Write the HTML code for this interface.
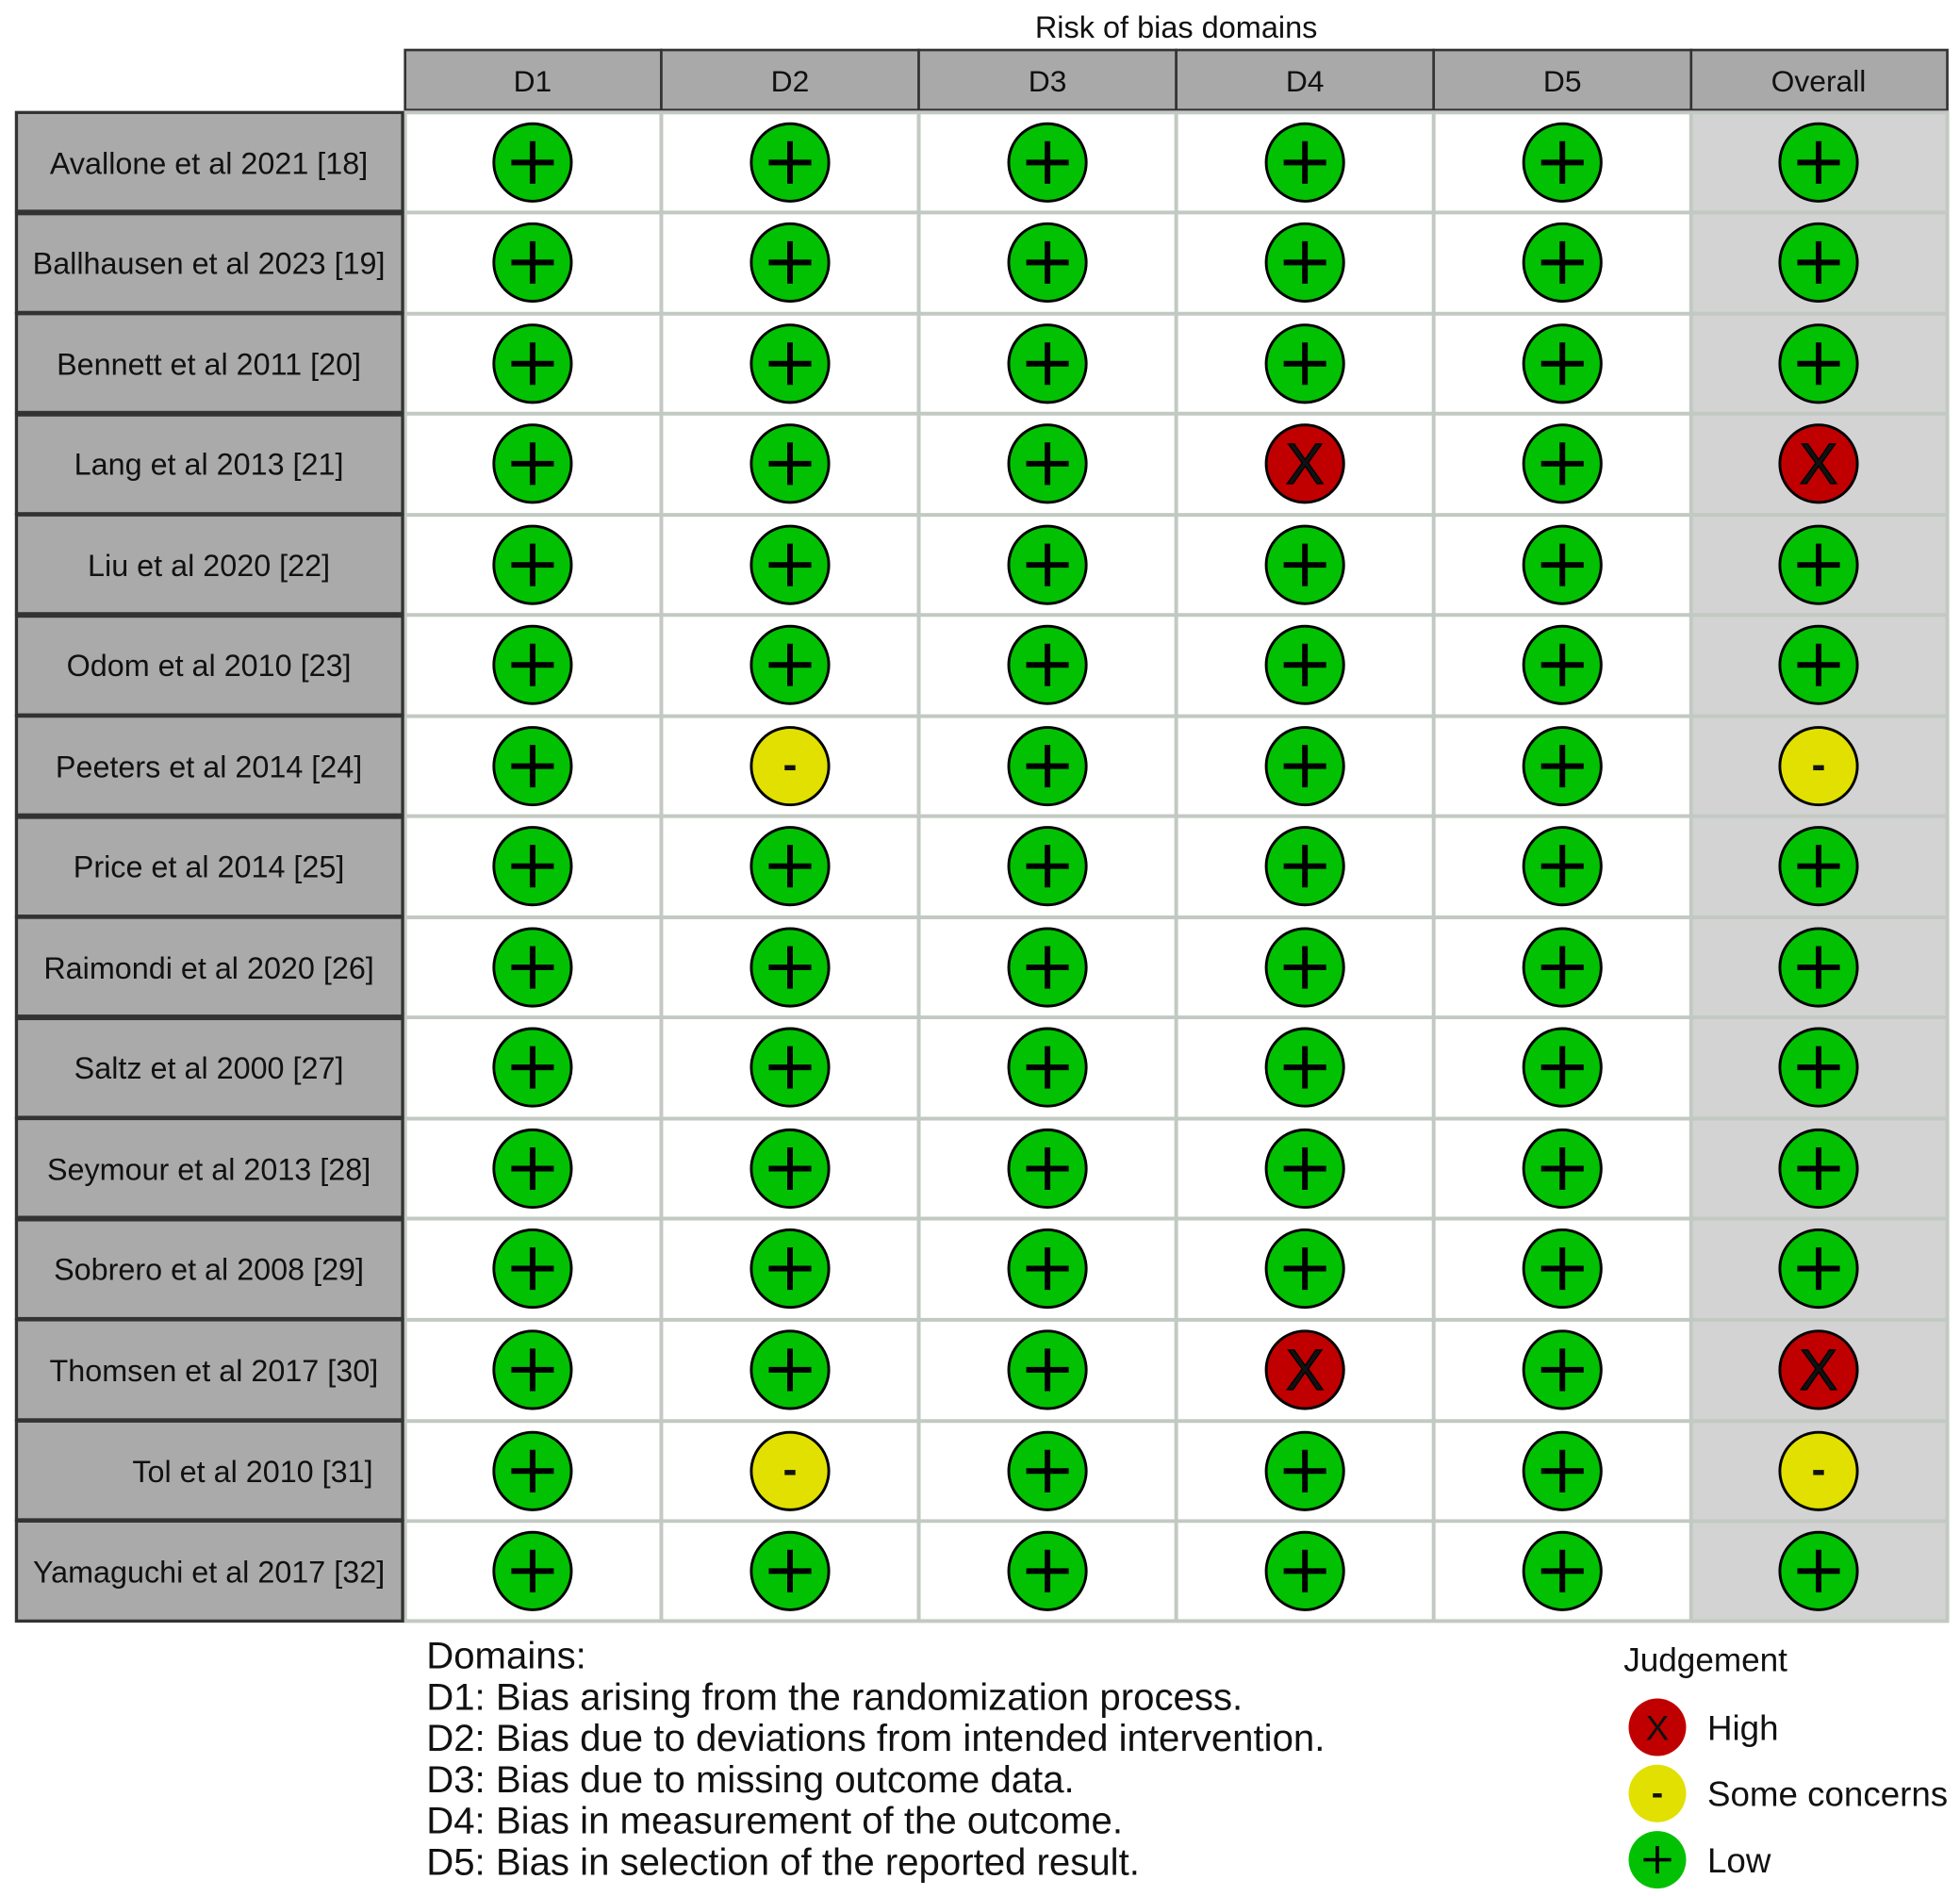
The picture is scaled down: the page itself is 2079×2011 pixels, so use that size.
<!DOCTYPE html>
<html><head><meta charset="utf-8"><style>
html,body{margin:0;padding:0;background:#fff;}
svg{display:block;}
text{font-family:"Liberation Sans",sans-serif;fill:#111;}
</style></head><body>
<svg width="2079" height="2011" viewBox="0 0 1568 1517" xmlns="http://www.w3.org/2000/svg">
<defs>
<g id="g"><circle r="31" fill="#02c102" stroke="#000" stroke-width="2.2"/><path d="M-17 0H17M0 -17V17" stroke="#000" stroke-width="4.5"/></g>
</defs>
<text x="941" y="30" font-size="24.5" text-anchor="middle">Risk of bias domains</text>
<g fill="#a9a9a9" stroke="#333" stroke-width="2">
<rect x="324" y="40" width="205" height="48"/><rect x="529" y="40" width="206" height="48"/><rect x="735" y="40" width="206" height="48"/><rect x="941" y="40" width="206" height="48"/><rect x="1147" y="40" width="206" height="48"/><rect x="1353" y="40" width="205" height="48"/>
</g>
<g font-size="24" text-anchor="middle">
<text x="426" y="73">D1</text><text x="632" y="73">D2</text><text x="838" y="73">D3</text><text x="1044" y="73">D4</text><text x="1250" y="73">D5</text><text x="1455" y="73">Overall</text>
</g>
<rect x="324" y="90" width="1029" height="1207" fill="#fff"/>
<rect x="1353" y="90" width="205" height="1207" fill="#d3d3d3"/>
<g stroke="#c2c9c2" stroke-width="3" fill="none">
<rect x="324" y="90" width="1234" height="1207"/>
<path d="M529 90V1297M735 90V1297M941 90V1297M1147 90V1297M1353 90V1297"/>
<path d="M324 170H1558M324 251H1558M324 331H1558M324 412H1558M324 492H1558M324 573H1558M324 653H1558M324 734H1558M324 814H1558M324 895H1558M324 975H1558M324 1056H1558M324 1137H1558M324 1217H1558"/>
</g>
<g fill="#aaaaaa" stroke="#333" stroke-width="2.5">
<rect x="13" y="90" width="309" height="79"/><rect x="13" y="171" width="309" height="79"/><rect x="13" y="251" width="309" height="79"/><rect x="13" y="332" width="309" height="79"/><rect x="13" y="412" width="309" height="79"/><rect x="13" y="493" width="309" height="79"/><rect x="13" y="573" width="309" height="79"/><rect x="13" y="654" width="309" height="79"/><rect x="13" y="734" width="309" height="79"/><rect x="13" y="815" width="309" height="79"/><rect x="13" y="895" width="309" height="79"/><rect x="13" y="976" width="309" height="79"/><rect x="13" y="1056" width="309" height="80"/><rect x="13" y="1137" width="309" height="79"/><rect x="13" y="1217" width="309" height="80"/>
</g>
<g font-size="24.4" text-anchor="middle">
<text x="167" y="139">Avallone et al 2021 [18]</text>
<text x="167" y="219">Ballhausen et al 2023 [19]</text>
<text x="167" y="300">Bennett et al 2011 [20]</text>
<text x="167" y="380">Lang et al 2013 [21]</text>
<text x="167" y="461">Liu et al 2020 [22]</text>
<text x="167" y="541">Odom et al 2010 [23]</text>
<text x="167" y="622">Peeters et al 2014 [24]</text>
<text x="167" y="702">Price et al 2014 [25]</text>
<text x="167" y="783">Raimondi et al 2020 [26]</text>
<text x="167" y="863">Saltz et al 2000 [27]</text>
<text x="167" y="944">Seymour et al 2013 [28]</text>
<text x="167" y="1024">Sobrero et al 2008 [29]</text>
<text x="171" y="1105">Thomsen et al 2017 [30]</text>
<text x="202" y="1186">Tol et al 2010 [31]</text>
<text x="167" y="1266">Yamaguchi et al 2017 [32]</text>
</g>
<g>
<use href="#g" x="426" y="130"/><use href="#g" x="632" y="130"/><use href="#g" x="838" y="130"/><use href="#g" x="1044" y="130"/><use href="#g" x="1250" y="130"/><use href="#g" x="1455" y="130"/>
<use href="#g" x="426" y="210"/><use href="#g" x="632" y="210"/><use href="#g" x="838" y="210"/><use href="#g" x="1044" y="210"/><use href="#g" x="1250" y="210"/><use href="#g" x="1455" y="210"/>
<use href="#g" x="426" y="291"/><use href="#g" x="632" y="291"/><use href="#g" x="838" y="291"/><use href="#g" x="1044" y="291"/><use href="#g" x="1250" y="291"/><use href="#g" x="1455" y="291"/>
<use href="#g" x="426" y="371"/><use href="#g" x="632" y="371"/><use href="#g" x="838" y="371"/><use href="#g" x="1250" y="371"/>
<use href="#g" x="426" y="452"/><use href="#g" x="632" y="452"/><use href="#g" x="838" y="452"/><use href="#g" x="1044" y="452"/><use href="#g" x="1250" y="452"/><use href="#g" x="1455" y="452"/>
<use href="#g" x="426" y="532"/><use href="#g" x="632" y="532"/><use href="#g" x="838" y="532"/><use href="#g" x="1044" y="532"/><use href="#g" x="1250" y="532"/><use href="#g" x="1455" y="532"/>
<use href="#g" x="426" y="613"/><use href="#g" x="838" y="613"/><use href="#g" x="1044" y="613"/><use href="#g" x="1250" y="613"/>
<use href="#g" x="426" y="693"/><use href="#g" x="632" y="693"/><use href="#g" x="838" y="693"/><use href="#g" x="1044" y="693"/><use href="#g" x="1250" y="693"/><use href="#g" x="1455" y="693"/>
<use href="#g" x="426" y="774"/><use href="#g" x="632" y="774"/><use href="#g" x="838" y="774"/><use href="#g" x="1044" y="774"/><use href="#g" x="1250" y="774"/><use href="#g" x="1455" y="774"/>
<use href="#g" x="426" y="854"/><use href="#g" x="632" y="854"/><use href="#g" x="838" y="854"/><use href="#g" x="1044" y="854"/><use href="#g" x="1250" y="854"/><use href="#g" x="1455" y="854"/>
<use href="#g" x="426" y="935"/><use href="#g" x="632" y="935"/><use href="#g" x="838" y="935"/><use href="#g" x="1044" y="935"/><use href="#g" x="1250" y="935"/><use href="#g" x="1455" y="935"/>
<use href="#g" x="426" y="1015"/><use href="#g" x="632" y="1015"/><use href="#g" x="838" y="1015"/><use href="#g" x="1044" y="1015"/><use href="#g" x="1250" y="1015"/><use href="#g" x="1455" y="1015"/>
<use href="#g" x="426" y="1096"/><use href="#g" x="632" y="1096"/><use href="#g" x="838" y="1096"/><use href="#g" x="1250" y="1096"/>
<use href="#g" x="426" y="1177"/><use href="#g" x="838" y="1177"/><use href="#g" x="1044" y="1177"/><use href="#g" x="1250" y="1177"/>
<use href="#g" x="426" y="1257"/><use href="#g" x="632" y="1257"/><use href="#g" x="838" y="1257"/><use href="#g" x="1044" y="1257"/><use href="#g" x="1250" y="1257"/><use href="#g" x="1455" y="1257"/>
</g>
<g stroke="#000" stroke-width="2.2">
<circle cx="1044" cy="371" r="31" fill="#c00000"/><circle cx="1455" cy="371" r="31" fill="#c00000"/>
<circle cx="1044" cy="1096" r="31" fill="#c00000"/><circle cx="1455" cy="1096" r="31" fill="#c00000"/>
<circle cx="632" cy="613" r="31" fill="#e2e000"/><circle cx="1455" cy="613" r="31" fill="#e2e000"/>
<circle cx="632" cy="1177" r="31" fill="#e2e000"/><circle cx="1455" cy="1177" r="31" fill="#e2e000"/>
</g>
<g font-size="46" text-anchor="middle" stroke="#000" stroke-width="1">
<text x="1044" y="387">X</text><text x="1455" y="387">X</text><text x="1044" y="1112">X</text><text x="1455" y="1112">X</text>
</g>
<g font-size="34" text-anchor="middle" font-weight="bold">
<text x="632" y="623">-</text><text x="1455" y="623">-</text><text x="632" y="1187">-</text><text x="1455" y="1187">-</text>
</g>
<g font-size="30.3">
<text x="341" y="1335">Domains:</text>
<text x="341" y="1368">D1: Bias arising from the randomization process.</text>
<text x="341" y="1401">D2: Bias due to deviations from intended intervention.</text>
<text x="341" y="1434">D3: Bias due to missing outcome data.</text>
<text x="341" y="1467">D4: Bias in measurement of the outcome.</text>
<text x="341" y="1500">D5: Bias in selection of the reported result.</text>
</g>
<text x="1299" y="1337" font-size="26.5">Judgement</text>
<circle cx="1326" cy="1382" r="23" fill="#c00000"/>
<circle cx="1326" cy="1435" r="23" fill="#e2e000"/>
<circle cx="1326" cy="1488" r="23" fill="#02c102"/>
<g font-size="28" text-anchor="middle">
<text x="1326" y="1392">X</text><text x="1326" y="1444" font-weight="bold">-</text>
</g>
<path d="M1315 1488H1337M1326 1477V1499" stroke="#000" stroke-width="2.8"/>
<g font-size="27.7">
<text x="1366" y="1392">High</text><text x="1366" y="1445">Some concerns</text><text x="1366" y="1498">Low</text>
</g>
</svg>
</body></html>
